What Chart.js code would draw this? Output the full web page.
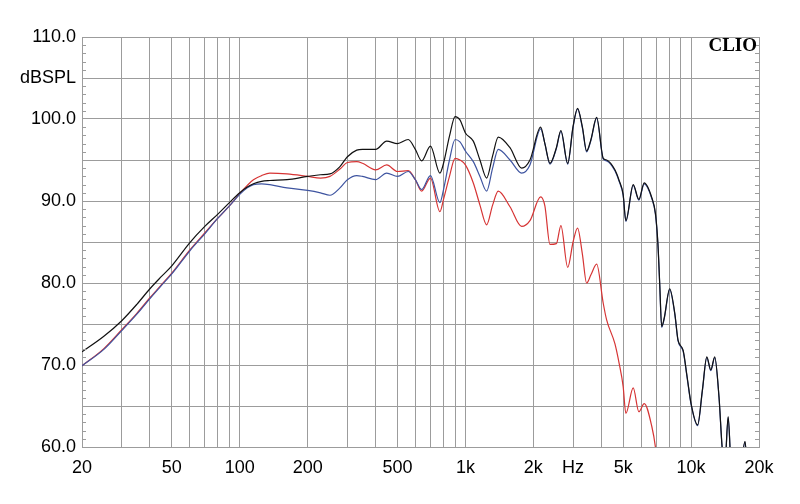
<!DOCTYPE html>
<html>
<head>
<meta charset="utf-8">
<script src="https://cdn.jsdelivr.net/npm/chart.js@4"></script>
<style>
html,body{margin:0;padding:0;background:#fff;}
#wrap{width:800px;height:504px;}
</style>
</head>
<body>
<div id="wrap"><canvas id="c" width="800" height="504"></canvas></div>
<script>
// Frequency points (Hz)
const freqs = [20,25,30,35,40,45,50,60,70,80,90,100,108,115,125,136,162,200,228,251,278,300,330,350,400,448,500,558,600,640,700,771,800,850,900,946,1000,1084,1160,1242,1320,1398,1576,1775,1932,2155,2250,2370,2530,2650,2840,3000,3140,3300,3444,3600,3816,4083,4225,4597,4800,5000,5141,5542,5870,6200,6700,6950,7130,7260,7410,7600,8040,8470,8760,9220,9600,10000,10690,11230,11740,12230,12730,13300,13730,14100,14600,15100,16300,17340,17900,20000];
// Black curve (dBSPL)
const blackSeries = [71.6,73.5,75.4,77.4,79.3,80.8,82.1,84.9,86.9,88.4,89.8,91.0,91.7,92.1,92.4,92.5,92.6,93.0,93.2,93.3,94.2,95.4,96.2,96.3,96.3,97.3,97.0,97.5,96.3,94.9,96.7,93.4,94.6,97.9,100.3,99.9,98.3,97.3,95.0,92.8,95.5,97.8,96.5,94.0,95.0,99.0,97.0,94.6,96.5,98.6,94.6,99.1,101.3,99.0,96.1,97.5,100.2,95.2,95.0,93.8,92.5,90.8,87.6,92.0,90.2,92.2,90.4,88.5,84.8,80.0,74.7,75.7,79.3,76.3,73.0,71.8,68.6,65.3,62.7,67.0,71.0,69.4,71.0,66.1,60.0,57.5,63.7,57.0,56.0,60.7,56.0,54.0];
// Red curve (dBSPL)
const redSeries = [69.9,72.0,74.3,76.3,78.2,79.8,81.2,84.0,86.1,87.9,89.4,90.9,91.9,92.6,93.1,93.4,93.3,93.0,92.8,93.0,93.9,94.7,94.8,94.6,93.8,94.4,93.6,93.7,92.6,91.2,92.8,88.7,90.2,93.0,95.2,95.0,94.4,92.2,89.5,87.1,89.5,91.2,89.3,86.9,87.6,90.5,89.4,84.7,84.8,87.0,81.9,85.0,86.7,83.5,80.0,81.0,82.3,77.5,75.5,72.6,70.2,67.4,64.1,67.2,64.3,65.3,62.5,60.0,57.0,null,null,null,null,null,null,null,null,null,null,null,null,null,null,null,null,null,null,null,null,null,null,null];
// Blue curve (dBSPL)
const blueSeries = [69.9,71.9,74.2,76.2,78.1,79.7,81.1,83.9,86.0,87.9,89.4,90.8,91.6,92.0,92.1,92.0,91.6,91.3,91.0,90.7,91.6,92.6,93.1,93.0,92.6,93.4,93.0,93.6,92.6,91.4,93.1,89.8,91.4,95.0,97.5,97.2,96.1,94.8,93.0,91.2,94.0,96.3,95.0,93.4,94.4,98.8,97.0,94.5,96.4,98.5,94.5,99.0,101.2,98.9,96.0,97.4,100.1,95.1,94.9,93.7,92.4,90.7,87.5,91.9,90.1,92.1,90.3,88.4,84.7,79.9,74.6,75.6,79.2,76.2,72.9,71.7,68.5,65.2,62.6,66.9,70.9,69.3,70.9,66.0,59.9,57.4,63.6,56.9,55.9,60.6,55.9,53.9];
// Axis ticks
const xGridValues = [20,30,40,50,60,70,80,90,100,200,300,400,500,600,700,800,900,1000,2000,3000,4000,5000,6000,7000,8000,9000,10000,20000];
const xLabelValues = [20,50,100,200,500,1000,2000,3000,5000,10000,20000];
const xLabelTexts = ['20','50','100','200','500','1k','2k','Hz','5k','10k','20k'];
const yLabelValues = [110,105,100,90,80,70,60];
const yLabelTexts = ['110.0','dBSPL','100.0','90.0','80.0','70.0','60.0'];
const yMinorTicks = [];
for (let v = 61; v < 110; v++) if (v % 5 !== 0) yMinorTicks.push(v);

const GRID = '#9c9c9c';

function pts(ys){ return freqs.map((f,i)=>({x:f,y:ys[i]})); }

const extras = {
  id:'extras',
  afterDatasetsDraw(chart){
    const ctx = chart.ctx, a = chart.chartArea, ys = chart.scales.y;
    ctx.save();
    ctx.strokeStyle = GRID; ctx.lineWidth = 1;
    ctx.beginPath();
    yMinorTicks.forEach(v=>{
      const y = Math.round(ys.getPixelForValue(v)) + 0.5;
      ctx.moveTo(a.left, y); ctx.lineTo(a.left+4, y);
      ctx.moveTo(a.right-4, y); ctx.lineTo(a.right, y);
    });
    ctx.stroke();
    ctx.fillStyle = '#000';
    ctx.font = 'bold 19px "Liberation Serif", "Times New Roman", serif';
    ctx.textAlign = 'right'; ctx.textBaseline = 'top';
    ctx.fillText('CLIO', a.right - 2, a.top + 0);
    ctx.restore();
  }
};

new Chart(document.getElementById('c'), {
  type:'line',
  data:{
    datasets:[
      {label:'black', data:pts(blackSeries), borderColor:'#111111', borderWidth:1.2, pointRadius:0, cubicInterpolationMode:'monotone', fill:false},
      {label:'blue', data:pts(blueSeries), borderColor:'rgb(62,84,160)', borderWidth:1.2, pointRadius:0, cubicInterpolationMode:'monotone', fill:false},
      {label:'red', data:pts(redSeries), borderColor:'rgb(214,52,52)', borderWidth:1.2, pointRadius:0, cubicInterpolationMode:'monotone', fill:false, spanGaps:false}
    ]
  },
  options:{
    responsive:false, animation:false, devicePixelRatio:1,
    layout:{padding:{left:0,right:41,top:37,bottom:0}},
    plugins:{legend:{display:false}, tooltip:{enabled:false}},
    scales:{
      x:{
        type:'logarithmic', min:20, max:20000,
        afterBuildTicks(s){ s.ticks = xGridValues.map(v=>({value:v})); },
        afterFit(s){ s.height = 57; },
        grid:{color:GRID, lineWidth:1, drawTicks:false},
        border:{color:GRID, width:1},
        ticks:{
          autoSkip:false, maxRotation:0, minRotation:0, padding:10,
          color:'#000', font:{family:'"Liberation Sans", Arial, sans-serif', size:18},
          callback(v){ const i = xLabelValues.indexOf(Number(v)); return i >= 0 ? xLabelTexts[i] : ''; }
        }
      },
      y:{
        min:60, max:110,
        afterBuildTicks(s){ const t=[]; for(let v=60; v<=110; v+=5) t.push({value:v}); s.ticks = t; },
        afterFit(s){ s.width = 82; },
        grid:{color:GRID, lineWidth:1, drawTicks:false},
        border:{color:GRID, width:1},
        ticks:{
          padding:6, color:'#000', font:{family:'"Liberation Sans", Arial, sans-serif', size:18},
          callback(v){ const i = yLabelValues.indexOf(Number(v)); return i >= 0 ? yLabelTexts[i] : ''; }
        }
      }
    }
  },
  plugins:[extras]
});
</script>
</body>
</html>
